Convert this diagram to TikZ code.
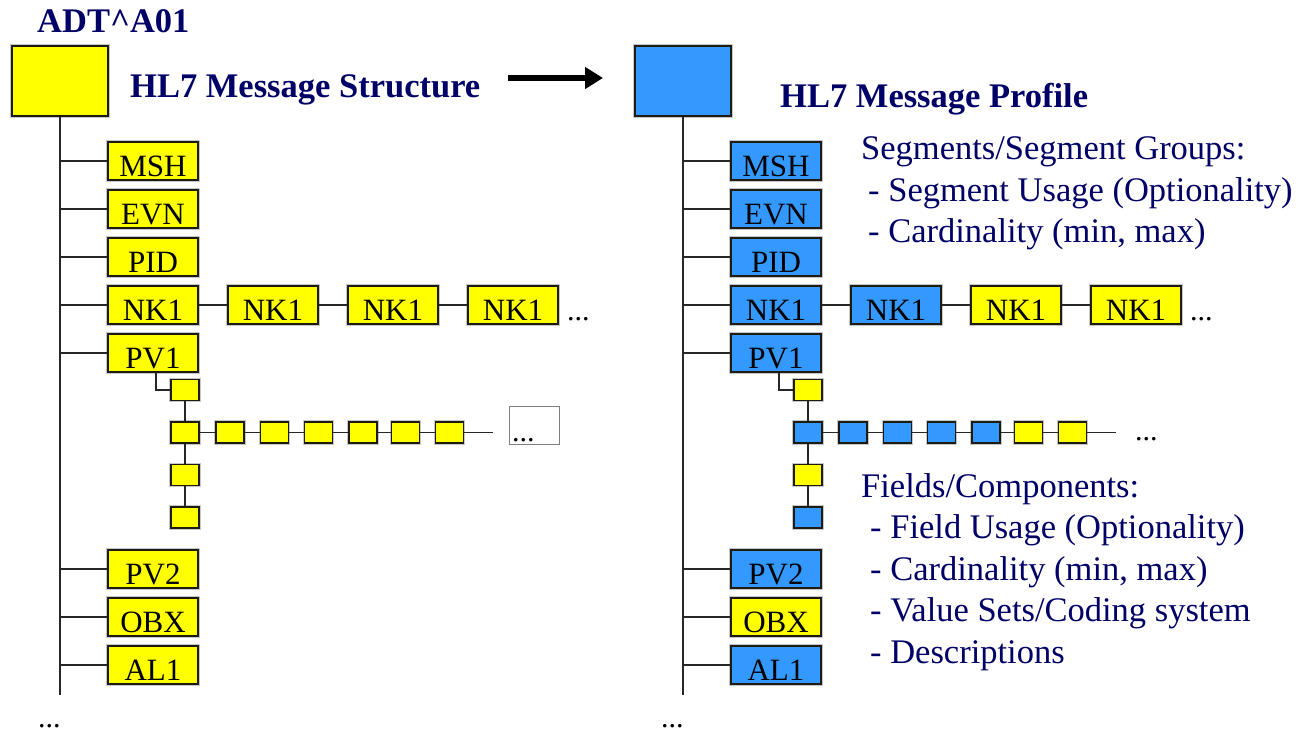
\documentclass[tikz,border=0pt]{standalone}
\usepackage{fontspec}
\setmainfont{Liberation Serif}
\usetikzlibrary{arrows.meta}

\definecolor{segyellow}{RGB}{255,255,0}
\definecolor{segblue}{RGB}{51,153,255}
\definecolor{navytext}{RGB}{0,0,102}
\definecolor{boxedge}{RGB}{28,28,18}

% fill of every box: the structure (L) is all yellow, the profile (R) marks
% the constrained elements in blue
\newcommand\treefill[2]{\colorlet{L#1}{segyellow}\colorlet{R#1}{#2}}
\treefill{big}{segblue}
\treefill{msh}{segblue}\treefill{evn}{segblue}\treefill{pid}{segblue}
\treefill{nka}{segblue}\treefill{nkb}{segblue}\treefill{nkc}{segyellow}\treefill{nkd}{segyellow}
\treefill{pvo}{segblue}
\treefill{fa}{segyellow}\treefill{fb}{segblue}\treefill{fc}{segyellow}\treefill{fd}{segblue}
\treefill{ca}{segblue}\treefill{cb}{segblue}\treefill{cc}{segblue}\treefill{cd}{segblue}
\treefill{ce}{segyellow}\treefill{cf}{segyellow}
\treefill{pvt}{segblue}\treefill{obx}{segyellow}\treefill{alo}{segblue}

\tikzset{
  boxbase/.style={draw=boxedge, line width=1.6pt, inner sep=0pt,
    preaction={draw=black!22, line width=3.4pt}},
  bigbox/.style={boxbase, minimum width=96pt, minimum height=70pt},
  seg/.style={boxbase, minimum width=90pt, minimum height=38pt,
    font=\fontsize{31}{31}\selectfont, text height=31pt, text depth=0pt},
  fieldbox/.style={boxbase, minimum width=28pt, minimum height=21pt},
  morebox/.style={draw=black!50, line width=1pt, fill=white,
    minimum width=50pt, minimum height=38pt},
  trunk/.style={draw=black!85, line width=2.4pt},
  link/.style={draw=black!85, line width=1.5pt},
  dots/.style={inner sep=0pt, anchor=base west, text depth=0pt,
    font=\fontsize{30}{30}\selectfont},
  title/.style={inner sep=0pt, anchor=base west, text=navytext,
    font=\fontsize{34.5}{34.5}\selectfont\bfseries},
  body/.style={inner sep=0pt, anchor=base west, text=navytext,
    font=\fontsize{34.5}{34.5}\selectfont},
}

% one message tree: #1 = name prefix (also the colour prefix), #2 = x offset
\newcommand\segtree[2]{%
\begin{scope}[xshift=#2]
  \node[bigbox, fill=#1big] (#1big) at (60,81) {};
  \coordinate (#1foot) at (60,695);
  \draw[trunk] (#1big.south) -- (#1foot);
  % segments
  \node[seg, fill=#1msh] (#1msh) at (153,161) {MSH};
  \node[seg, fill=#1evn] (#1evn) at (153,209) {EVN};
  \node[seg, fill=#1pid] (#1pid) at (153,257) {PID};
  \node[seg, fill=#1nka] (#1nka) at (153,305) {NK1};
  \node[seg, fill=#1pvo] (#1pvo) at (153,353) {PV1};
  \node[seg, fill=#1pvt] (#1pvt) at (153,569) {PV2};
  \node[seg, fill=#1obx] (#1obx) at (153,617) {OBX};
  \node[seg, fill=#1alo] (#1alo) at (153,665) {AL1};
  \foreach \s in {msh,evn,pid,nka,pvo,pvt,obx,alo}
    \draw[link] (#1\s.west) -- (#1\s.west -| #1big.south);
  % repeated NK1 segments
  \node[seg, fill=#1nkb] (#1nkb) at (273,305) {NK1};
  \node[seg, fill=#1nkc] (#1nkc) at (393,305) {NK1};
  \node[seg, fill=#1nkd] (#1nkd) at (513,305) {NK1};
  \draw[link] (#1nka) -- (#1nkb) -- (#1nkc) -- (#1nkd);
  \node[dots] (#1nkmore) at (567,320) {...};
  % fields of PV1
  \node[fieldbox, fill=#1fa] (#1fa) at (185,390) {};
  \node[fieldbox, fill=#1fb] (#1fb) at (185,432.5) {};
  \node[fieldbox, fill=#1fc] (#1fc) at (185,475) {};
  \node[fieldbox, fill=#1fd] (#1fd) at (185,517.5) {};
  \draw[link] ([xshift=3pt]#1pvo.south) |- (#1fa.west);
  \draw[link] (#1fa) -- (#1fb) -- (#1fc) -- (#1fd);
  % components of the second field
  \node[fieldbox, fill=#1ca] (#1ca) at (230,432.5) {};
  \node[fieldbox, fill=#1cb] (#1cb) at (274.5,432.5) {};
  \node[fieldbox, fill=#1cc] (#1cc) at (318.5,432.5) {};
  \node[fieldbox, fill=#1cd] (#1cd) at (363,432.5) {};
  \node[fieldbox, fill=#1ce] (#1ce) at (405.5,432.5) {};
  \node[fieldbox, fill=#1cf] (#1cf) at (449.5,432.5) {};
  \coordinate (#1rowend) at (493,432.5);
  \draw[link] (#1fb) -- (#1ca) -- (#1cb) -- (#1cc) -- (#1cd) -- (#1ce) -- (#1cf) -- (#1rowend);
  \node[dots] (#1footmore) at (38,727) {...};
\end{scope}}

\begin{document}
\begin{tikzpicture}[x=1pt, y=-1pt]
  \useasboundingbox (0,0) rectangle (1298,731);

  \segtree{L}{0}
  \segtree{R}{623}

  % continuation marks at the end of the component rows
  \node[morebox] (Lmore) at (534,425) {};
  \node[dots] (Lmoredots) at (512,441) {...};
  \node[dots] (Rrowmore) at (1135,440) {...};

  % headings
  \node[title] (msgname) at (37,32) {ADT\textasciicircum A01};
  \node[title] (structtitle) at (130,97) {HL7 Message Structure};
  \node[title] (proftitle) at (780,107) {HL7 Message Profile};

  \coordinate (arrowtail) at (508,78);
  \coordinate (arrowtip) at (603,78);
  \draw[line width=6pt, -{Triangle[length=18pt, width=21pt]}] (arrowtail) -- (arrowtip);

  % profile constraints
  \node[body] (segsinfo) at (861,159) {Segments/Segment Groups:};
  \node[body] (segusage) at (868,201) {- Segment Usage (Optionality)};
  \node[body] (segcard)  at (868,242) {- Cardinality (min, max)};

  \node[body] (fieldsinfo) at (861,497) {Fields/Components:};
  \node[body] (fieldusage) at (870,538) {- Field Usage (Optionality)};
  \node[body] (fieldcard)  at (870,580) {- Cardinality (min, max)};
  \node[body] (fieldvals)  at (870,621) {- Value Sets/Coding system};
  \node[body] (fielddesc)  at (870,663) {- Descriptions};
\end{tikzpicture}
\end{document}
